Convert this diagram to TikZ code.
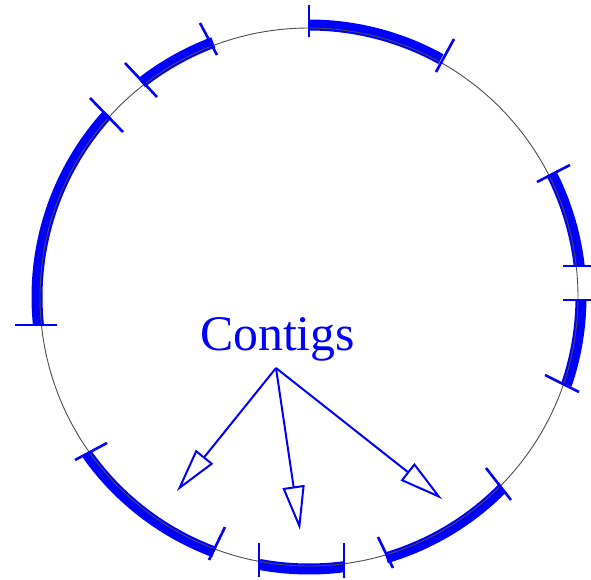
\documentclass[tikz,border=0pt]{standalone}
\usepackage{fontspec}
\setmainfont{Liberation Serif}
\usetikzlibrary{arrows.meta}
\definecolor{cblue}{RGB}{0,0,255}
\begin{document}
\begin{tikzpicture}[x=0.5pt,y=-0.5pt,
  contig/.style={draw=cblue, line width=5.5pt},
  tickmark/.style={draw=cblue, line width=1.3pt},
  ring/.style={draw=black!70, line width=0.45pt},
  pointer/.style={draw=cblue, line width=1pt, -{Triangle[open, length=22pt, width=11pt, line width=1pt]}},
  lbl/.style={text=cblue, font=\fontsize{24.9}{30}\selectfont, inner sep=0pt}]
\useasboundingbox (0,0) rectangle (591,580);
\clip (0,0) rectangle (591,580);
\coordinate (O) at (309,297);
% contigs (thick arcs)
\foreach \a/\b in {-90/-61, -27/-6.5, 0.6/18.8, 44.7/73.5, 82.7/100.5, 110.4/144.7, 174.1/222.2, 232/249.4}
  \draw[contig] ([shift={(\a:272)}]O) arc[start angle=\a, end angle=\b, radius=272];
% the circle
\draw[ring] (O) circle[radius=269];
% end ticks
\draw[tickmark] (309,5) -- (309,37);
\draw[tickmark] (454,39) -- (436,72);
\draw[tickmark] (570,165) -- (537,182);
\draw[tickmark] (563,266) -- (600,266);
\draw[tickmark] (563,300) -- (600,300);
\draw[tickmark] (545,375) -- (579,392);
\draw[tickmark] (486,468) -- (511,500);
\draw[tickmark] (378,537) -- (393,568);
\draw[tickmark] (344,543) -- (344,578);
\draw[tickmark] (259,543) -- (259,577);
\draw[tickmark] (225,527) -- (209,560);
\draw[tickmark] (75,460) -- (107,443);
\draw[tickmark] (15,325) -- (57,325);
\draw[tickmark] (90,98) -- (123,132);
\draw[tickmark] (125,63) -- (157,97);
\draw[tickmark] (200,23) -- (217,55);
% label and pointers
\node[lbl, anchor=base] (label) at (277.5,350) {Contigs};
\coordinate (src) at (276,368);
\coordinate (t1) at (177,491);
\coordinate (t2) at (300,530);
\coordinate (t3) at (442,499);
\draw[pointer] (src) -- (t1);
\draw[pointer] (src) -- (t2);
\draw[pointer] (src) -- (t3);
\end{tikzpicture}
\end{document}
